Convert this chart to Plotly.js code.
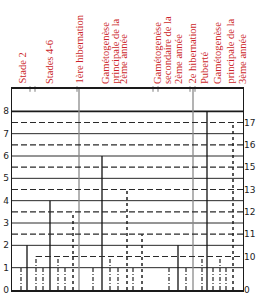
<!DOCTYPE html>
<html><head><meta charset="utf-8">
<script src="https://cdn.plot.ly/plotly-3.0.1.min.js"></script>
<style>html,body{margin:0;padding:0;background:#fff}#chart{width:260px;height:299px}</style>
</head><body><div id="chart"></div>
<script>
// vertical marks: time position, top level, line kind
const markX   = [9,15,24,31,38,46,53,61,67,81,90,98,106,115,121,130,157,166,174,181,190,195,201,208,214,221];
const markTop = [1,2,1.5,1,4,1.5,1,3.5,9,1,6,1.5,1,4.5,1,2.5,1,2,1,9,1.5,8,1,1.5,1,7.5];
const markKind = ['dashdot','solid','dashdot','dashdot','solid','dashdot','dashdot','dotted','divider',
                  'dashdot','solid','dashdot','dashdot','dotted','dashdot','dotted',
                  'dashdot','solid','dashdot','divider','dashdot','solid','dashdot','dashdot','dashdot','dotted'];
const levelsSolid  = [1,2,3,4,5,6,7];
const levelsStrong = [8];
const levelsDashed = [1.5,2.5,3.5,4.5,5.5,6.5,7.5];
const dashedStart  = [24,0,0,0,0,0,0];
const xEnd = 231;
const leftTicks = [0,1,2,3,4,5,6,7,8];
const rightTickVals = [0,1.5,2.5,3.5,4.5,5.5,6.5,7.5];
const rightTickText = ['0','10','11','12','13','15','16','17'];
const topTickX = [18,23,65,141,146,178,183];
const stageLines = ['Stade 2','Stades 4-6','1ère hibernation',
  'Gamétogenèse','principale de la','2ème année',
  'Gamétogenèse','secondaire de la','2ème année',
  '2e hibernation','Puberté',
  'Gamétogenèse','principale de la','3ème année'];
const stageLineX = [10,38,67,94,103,112,146,156,167,180,193,206,218,231];

function vsegs(kind){
  const x=[],y=[];
  markX.forEach((v,i)=>{ if(markKind[i]===kind){ x.push(v,v,null); y.push(0,markTop[i],null);} });
  return {x,y};
}
function hsegs(levels, starts){
  const x=[],y=[];
  levels.forEach((l,i)=>{ x.push(starts?starts[i]:0, xEnd, null); y.push(l,l,null); });
  return {x,y};
}
const traces = [];
let s = hsegs(levelsSolid);
traces.push({x:s.x,y:s.y,mode:'lines',line:{color:'#2a2a2a',width:1},hoverinfo:'skip'});
s = hsegs(levelsStrong);
traces.push({x:s.x,y:s.y,mode:'lines',line:{color:'#1a1a1a',width:1.8},hoverinfo:'skip'});
s = hsegs(levelsDashed, dashedStart);
traces.push({x:s.x,y:s.y,mode:'lines',yaxis:'y2',line:{color:'#2a2a2a',width:1.2,dash:'6px,3px'},hoverinfo:'skip'});
s = vsegs('divider');
traces.push({x:s.x,y:s.y,mode:'lines',line:{color:'#8a8a8a',width:1.3},hoverinfo:'skip'});
s = vsegs('solid');
traces.push({x:s.x,y:s.y,mode:'lines',line:{color:'#111',width:1.3},hoverinfo:'skip'});
s = vsegs('dotted');
traces.push({x:s.x,y:s.y,mode:'lines',line:{color:'#111',width:1.4,dash:'dot'},hoverinfo:'skip'});
s = vsegs('dashdot');
traces.push({x:s.x,y:s.y,mode:'lines',line:{color:'#111',width:1.1,dash:'4px,2px,1px,2px'},hoverinfo:'skip'});
traces.push({x:topTickX,y:topTickX.map(()=>9),mode:'markers',cliponaxis:false,
  marker:{symbol:'line-ns-open',size:4,line:{color:'#111',width:1}},hoverinfo:'skip'});

const annotations = stageLines.map((t,i)=>({
  text:t, x:stageLineX[i], xref:'x', y:1.02, yref:'paper', textangle:-90,
  xanchor:'center', yanchor:'bottom', showarrow:false, borderpad:0,
  font:{family:'Liberation Serif', size:10.5, color:'#cc1f2a'}
}));

const layout = {
  width:260, height:299,
  margin:{l:12,r:17,t:89,b:9},
  paper_bgcolor:'#fff', plot_bgcolor:'#fff',
  showlegend:false, hovermode:false,
  xaxis:{range:[0,xEnd], showticklabels:false, ticks:'', showgrid:false, zeroline:false,
         showline:true, mirror:true, linecolor:'#1a1a1a', linewidth:1.8},
  yaxis:{range:[0,9], tickvals:leftTicks, ticks:'', showgrid:false, zeroline:false,
         showline:true, mirror:true, linecolor:'#1a1a1a', linewidth:1.3,
         tickfont:{family:'DejaVu Sans', size:9, color:'#222'}},
  yaxis2:{range:[0,9], overlaying:'y', side:'right', tickvals:rightTickVals, ticktext:rightTickText,
          ticks:'', showgrid:false, zeroline:false, showline:false,
          tickfont:{family:'DejaVu Sans', size:9, color:'#222'}},
  annotations
};
Plotly.newPlot('chart', traces, layout, {staticPlot:true, displayModeBar:false});
</script></body></html>
